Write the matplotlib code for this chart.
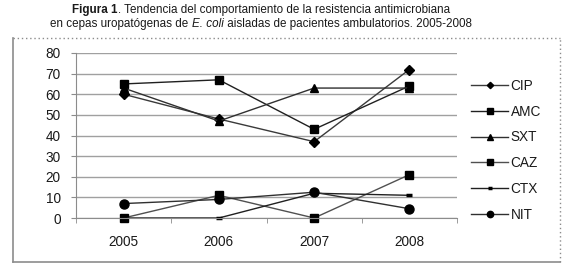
import matplotlib
matplotlib.use("Agg")
import matplotlib.pyplot as plt
from matplotlib.lines import Line2D
import numpy as np

plt.rcParams['font.family'] = ['Liberation Sans', 'DejaVu Sans']

# Datos
anios = ['2005', '2006', '2007', '2008']
cip = [60, 48, 37, 72]
amc = [65, 67, 43, 64]
sxt = [63, 47, 63, 63]
caz = [0, 11, 0, 21]
ctx = [0, 0, 12, 11]
nit = [7, 9, 12.5, 4.5]

series = [
    ('CIP', cip, 'D', 4.6, '#3a3a3a'),
    ('AMC', amc, 's', 6.0, '#202020'),
    ('SXT', sxt, '^', 6.0, '#303030'),
    ('CAZ', caz, 's', 6.0, '#505050'),
    ('CTX', ctx, '_', 4.5, '#202020'),
    ('NIT', nit, 'o', 6.5, '#303030'),
]

W, H = 574, 278
fig = plt.figure(figsize=(W / 100, H / 100), dpi=100)

# Marco exterior (izquierda/abajo solido, arriba/derecha punteado)
x0, x1, y0, y1 = 13 / W, 560 / W, 1 - 262 / H, 1 - 38 / H
fig.add_artist(Line2D([x0, x0], [y0, y1], color='#8c8c8c', lw=1.2, transform=fig.transFigure))
fig.add_artist(Line2D([x0, x1], [y0, y0], color='#8c8c8c', lw=1.2, transform=fig.transFigure))
fig.add_artist(Line2D([x0, x1], [y1, y1], color='#8c8c8c', lw=1.0, ls=(0, (1, 2)), transform=fig.transFigure))
fig.add_artist(Line2D([x1, x1], [y0, y1], color='#8c8c8c', lw=1.0, ls=(0, (1, 2)), transform=fig.transFigure))

ax = fig.add_axes([76 / W, 1 - 218 / H, 381 / W, 165 / H])
x = np.arange(1, len(anios) + 1)
for nombre, vals, mk, ms, col in series:
    kw = dict(marker=mk, markersize=ms, color=col, lw=1.0, markerfacecolor='black',
              markeredgecolor='black', label=nombre, clip_on=False)
    if mk == '_':
        kw['markeredgewidth'] = 2.5
    ax.plot(x, vals, **kw)

ax.set_xlim(0.5, 4.5)
ax.set_ylim(0, 80)
ax.set_yticks(range(0, 81, 10))
ax.set_xticks(x)
ax.set_xticklabels(anios)
ax.set_xticks(np.arange(0.5, 4.6, 1), minor=True)
ax.grid(axis='y', color='#a0a0a0', lw=1.0)
ax.set_axisbelow(True)
for s in ['top', 'right']:
    ax.spines[s].set_visible(False)
ax.spines['left'].set_color('#8c8c8c')
ax.spines['bottom'].set_color('#8c8c8c')
ax.tick_params(axis='y', length=3.6, color='#8c8c8c', pad=7.5, labelsize=9.8, labelcolor='#1a1a1a')
ax.tick_params(axis='x', which='major', length=0, pad=12, labelsize=9.8, labelcolor='#1a1a1a')
ax.tick_params(axis='x', which='minor', length=3.6, color='#8c8c8c')

leg = ax.legend(loc='upper left', bbox_to_anchor=(471 / W, 1 - 79 / H), bbox_transform=fig.transFigure,
                frameon=False, handlelength=2.75, handletextpad=0.15, labelspacing=0.86,
                fontsize=9.8, markerscale=0.7, borderaxespad=0, borderpad=0)
for t in leg.get_texts():
    t.set_color('#1a1a1a')

# Titulo con partes en negrita y cursiva
def linea_rica(y, partes, size=8.4):
    r = fig.canvas.get_renderer()
    textos = []
    for txt, kw in partes:
        t = fig.text(0, y, txt, fontsize=size, va='center', ha='left', color='#1a1a1a', **kw)
        textos.append(t)
    anchos = [t.get_window_extent(r).width for t in textos]
    total = sum(anchos)
    xpos = (W / 2 - 26 - total / 2)
    for t, w in zip(textos, anchos):
        t.set_x(xpos / W)
        xpos += w

linea_rica(1 - 10 / H, [('Figura 1', dict(fontweight='bold')),
                        ('. Tendencia del comportamiento de la resistencia antimicrobiana', {})])
linea_rica(1 - 24 / H, [('en cepas uropatógenas de ', {}), ('E. coli', dict(style='italic')),
                        (' aisladas de pacientes ambulatorios. 2005-2008', {})])

fig.savefig('out.png', dpi=100)
